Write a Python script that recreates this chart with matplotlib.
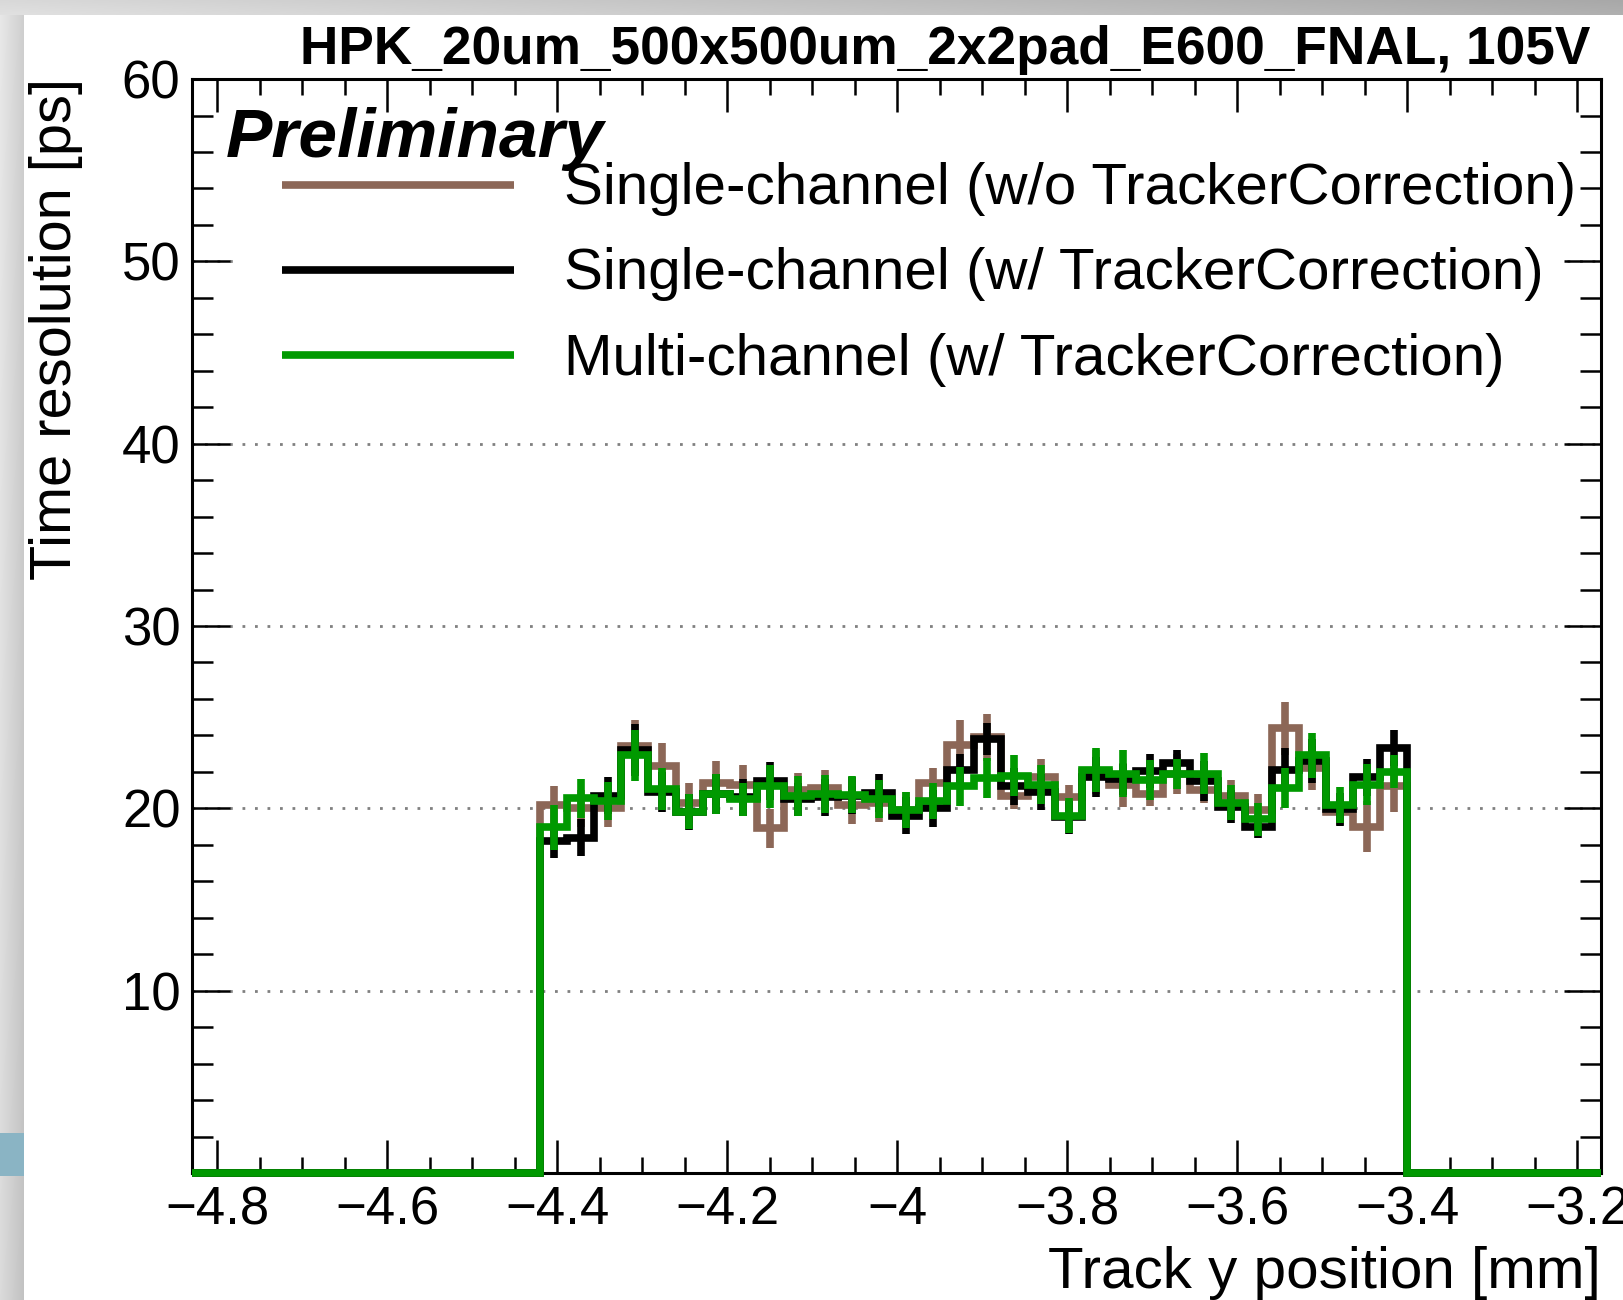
import numpy as np
import matplotlib.pyplot as plt
from matplotlib import font_manager
from matplotlib.ticker import MultipleLocator, FuncFormatter
from matplotlib.patches import Rectangle

names = {f.name for f in font_manager.fontManager.ttflist}
plt.rcParams['font.family'] = ['Liberation Sans' if 'Liberation Sans' in names else 'DejaVu Sans', 'DejaVu Sans']

# histogram binning (track y position, mm)
y_lo, y_hi, n_bins = -4.42, -3.40, 32
x_range = (-4.83, -3.172)

# single-channel, w/o tracker correction
res_noTC = [20.2, 20.0, 20.0, 23.4, 22.3, 20.3, 21.4, 21.3, 18.9, 21.0, 21.1, 20.2, 20.3, 19.9, 21.4, 23.5,
            23.9, 20.65, 21.7, 20.6, 22.0, 21.3, 20.8, 21.9, 21.0, 20.65, 19.9, 24.4, 22.2, 19.8, 19.0, 21.2]
err_noTC = [1.0, 1.0, 1.0, 1.45, 1.3, 1.1, 1.2, 1.1, 1.05, 0.95, 1.0, 1.05, 1.05, 1.0, 0.8, 1.35,
            1.3, 0.7, 1.0, 0.7, 1.2, 1.2, 0.65, 1.1, 0.7, 0.9, 0.9, 1.45, 1.2, 0.7, 1.4, 1.4]
# single-channel, w/ tracker correction
res_TC = [18.2, 18.4, 20.7, 23.2, 20.9, 19.8, 20.8, 20.6, 21.5, 20.5, 20.6, 20.7, 20.85, 19.6, 20.0, 22.1,
          23.8, 21.2, 20.9, 19.5, 21.7, 21.6, 22.05, 22.5, 21.5, 20.1, 19.0, 22.1, 22.6, 19.95, 21.7, 23.3]
err_TC = [0.9, 1.0, 1.0, 1.4, 1.1, 1.0, 1.1, 1.0, 1.05, 0.9, 1.0, 1.0, 1.05, 1.0, 1.0, 0.9,
          0.9, 1.0, 1.0, 0.9, 1.1, 0.85, 0.95, 0.7, 1.1, 0.9, 0.65, 1.2, 1.2, 0.9, 1.0, 1.0]
# multi-channel, w/ tracker correction
res_multi = [18.95, 20.55, 20.4, 22.9, 21.05, 19.8, 20.8, 20.5, 21.2, 20.7, 20.8, 20.75, 20.5, 19.9, 20.4, 21.2,
             21.65, 21.8, 21.3, 19.6, 22.1, 21.9, 21.55, 21.9, 21.9, 20.3, 19.4, 21.1, 22.9, 20.2, 21.3, 22.0]
err_multi = [1.23, 1.06, 1.02, 1.42, 1.14, 0.96, 1.1, 0.9, 1.19, 1.1, 1.05, 1.02, 1.05, 1.0, 1.0, 1.05,
             1.1, 1.14, 1.05, 0.96, 1.19, 1.3, 1.1, 0.82, 1.12, 0.96, 0.91, 1.1, 1.25, 0.98, 1.14, 0.91]

labels = ['Single-channel (w/o TrackerCorrection)',
          'Single-channel (w/ TrackerCorrection)',
          'Multi-channel (w/ TrackerCorrection)']
colors = ['#8c6757', 'black', '#009900']
series = [(res_noTC, err_noTC), (res_TC, err_TC), (res_multi, err_multi)]

title = 'HPK_20um_500x500um_2x2pad_E600_FNAL, 105V'

edges = np.linspace(y_lo, y_hi, n_bins + 1)
centers = 0.5 * (edges[1:] + edges[:-1])
full_edges = np.concatenate([[x_range[0]], edges, [x_range[1]]])

fig = plt.figure(figsize=(16.23, 13.0), dpi=100)
ax = fig.add_axes([0.118, 0.0977, 0.8685, 0.8415])

lw = 5.5
for (vals, errs), col in zip(series, colors):
    vals = np.array(vals)
    errs = np.array(errs)
    ax.stairs(np.concatenate([[0], vals, [0]]), full_edges, baseline=None,
              color=col, lw=lw, clip_on=False, zorder=3)
    ax.vlines(centers, vals - errs, vals + errs, color=col, lw=lw, zorder=3)

ax.set_xlim(*x_range)
ax.set_ylim(0, 60)

ax.xaxis.set_major_locator(MultipleLocator(0.2))
ax.xaxis.set_minor_locator(MultipleLocator(0.05))
ax.yaxis.set_major_locator(MultipleLocator(10))
ax.yaxis.set_minor_locator(MultipleLocator(2))
ax.xaxis.set_major_formatter(FuncFormatter(lambda v, p: ('%g' % round(v, 2)).replace('-', '\u2212')))
ax.yaxis.set_major_formatter(FuncFormatter(lambda v, p: '' if abs(v) < 1e-9 else '%g' % v))

ax.tick_params(which='both', direction='in', top=True, right=True, width=1.8, labelsize=38)
ax.tick_params(axis='x', which='major', length=24, pad=9)
ax.tick_params(axis='x', which='minor', length=11.5)
ax.tick_params(axis='y', which='major', length=27, pad=8)
ax.tick_params(axis='y', which='minor', length=15)
for s in ax.spines.values():
    s.set_linewidth(2.2)

ax.yaxis.grid(True, which='major', linestyle=(0, (1, 3.5)), color='gray', lw=2)

# legend box and entries
ax.add_patch(Rectangle((0.03, 0.70), 0.94, 0.24, transform=ax.transAxes,
                       facecolor='white', edgecolor='none', zorder=2))
leg_y = [1 - 0.0965, 1 - 0.1745, 1 - 0.2525]
for lab, col, yy in zip(labels, colors, leg_y):
    ax.plot([0.0639, 0.229], [yy, yy], transform=ax.transAxes, color=col, lw=lw, zorder=4,
            solid_capstyle='butt')
    ax.text(0.264, yy - 0.004, lab, transform=ax.transAxes, fontsize=42, va='center', zorder=5)

ax.text(0.024, 1 - 0.0713, 'Preliminary', transform=ax.transAxes, fontsize=50,
        weight='bold', style='italic', va='baseline', zorder=5)

fig.text(0.980, 0.9508, title, ha='right', va='baseline', fontsize=38.3, weight='bold')
ax.text(1.0, -0.105, 'Track y position [mm]', transform=ax.transAxes, ha='right',
        va='baseline', fontsize=42)
fig.text(0.018, 1 - 78 / 1300, 'Time resolution [ps]', rotation=90, ha='left', va='top', fontsize=41.6)

# screenshot border (grey gradient bands and blue patch on the left)
band_l = fig.add_axes([0, 0, 24 / 1623, 1 - 15 / 1300])
grad_l = np.linspace(0.86, 0.76, 50)[None, :] + np.linspace(0.05, 0, 200)[:, None]
band_l.imshow(np.dstack([grad_l] * 3), aspect='auto', extent=(0, 1, 0, 1))
band_l.add_patch(Rectangle((0, 0.0954 / (1 - 15 / 1300)), 1, 0.0331 / (1 - 15 / 1300),
                           facecolor='#8ab4c4', edgecolor='none'))
band_l.set_axis_off()
band_t = fig.add_axes([0, 1 - 15 / 1300, 1, 15 / 1300])
grad_t = np.linspace(0.85, 0.66, 300)[None, :] + np.linspace(0, 0.03, 10)[:, None]
band_t.imshow(np.dstack([grad_t] * 3), aspect='auto', extent=(0, 1, 0, 1))
band_t.set_axis_off()

fig.savefig('out.png', dpi=100)
